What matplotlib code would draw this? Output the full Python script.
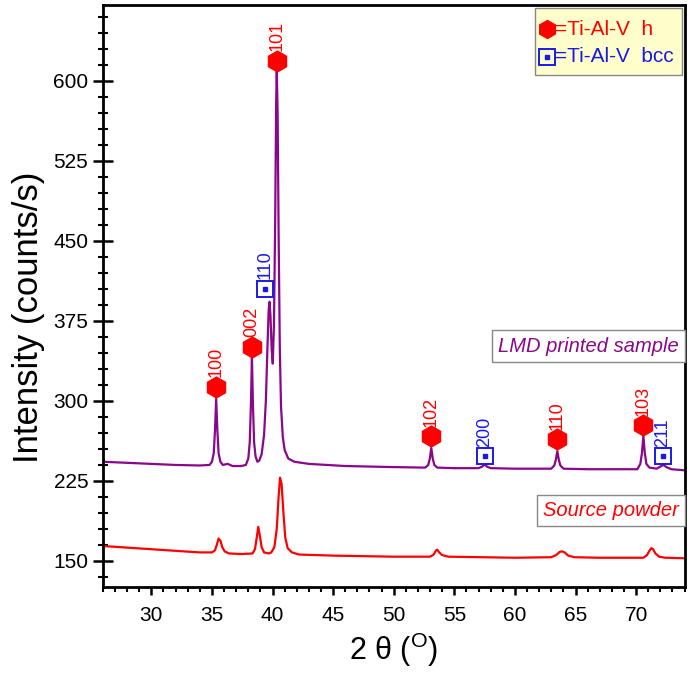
import matplotlib
matplotlib.use("Agg")
import matplotlib.pyplot as plt
from matplotlib.ticker import MultipleLocator
from matplotlib.patches import Rectangle

plt.rcParams['font.family'] = ['Liberation Sans', 'DejaVu Sans']
plt.rcParams['mathtext.fontset'] = 'custom'
plt.rcParams['mathtext.rm'] = 'Liberation Sans'

# LMD printed sample
lmd_x = [26, 28, 30, 32, 34, 34.8, 35.0, 35.15, 35.25, 35.35, 35.45, 35.55, 35.7, 35.9, 36.3,
         36.7, 37.4, 37.8, 38.0, 38.12, 38.22, 38.3, 38.38, 38.48, 38.6, 38.75, 38.9, 39.1,
         39.3, 39.45, 39.58, 39.68, 39.75, 39.83, 39.93, 40.02, 40.12, 40.22, 40.3, 40.35,
         40.42, 40.5, 40.6, 40.7, 40.85, 41.0, 41.3, 41.8, 43, 46, 50, 52.6, 52.85, 52.98,
         53.1, 53.22, 53.35, 53.6, 55, 57.0, 57.3, 57.5, 57.7, 58.0, 60, 63.0, 63.25, 63.38,
         63.5, 63.62, 63.75, 64.0, 66, 70.1, 70.35, 70.48, 70.6, 70.72, 70.85, 71.1, 71.7,
         72.0, 72.25, 72.5, 72.9, 74]
lmd_y = [243, 242, 241, 240, 239.5, 240, 243, 251, 272, 302, 272, 251, 243, 240, 241,
         239, 239, 240, 246, 261, 298, 342, 298, 261, 248, 243, 244, 250,
         268, 300, 350, 385, 393, 380, 348, 335, 372, 470, 580, 610,
         570, 460, 350, 295, 266, 254, 246, 243, 241, 239, 238, 237.5, 240, 246,
         256, 246, 240, 237.5, 237, 237, 238.5, 240.5, 238.5, 237, 236.5, 236.5, 239.5, 245,
         253, 245, 239.5, 236.5, 236, 236, 241, 251, 267, 251, 241, 237.5, 236.5,
         238.5, 240, 238, 236, 235]

# Source powder
src_x = [26, 30, 34, 35.0, 35.25, 35.4, 35.55, 35.7, 35.85, 36.05, 36.4, 37.5, 38.35, 38.55,
         38.7, 38.82, 38.95, 39.1, 39.3, 39.7, 39.9, 40.15, 40.35, 40.5, 40.62, 40.75, 40.9,
         41.05, 41.25, 41.6, 42.2, 45, 50, 53.0, 53.3, 53.5, 53.6, 53.75, 54.0, 54.5, 60,
         63.0, 63.4, 63.7, 63.9, 64.1, 64.4, 64.9, 67, 70.6, 70.9, 71.1, 71.25, 71.4, 71.6,
         71.9, 72.4, 74]
src_y = [164, 161, 158, 158, 160, 165, 171, 169, 163, 159, 157, 156.5, 157, 161,
         172, 182, 174, 163, 158, 157, 158, 163, 180, 210, 228, 222, 195,
         172, 162, 158, 156, 155, 154, 154, 156, 160, 160.5, 158, 155.5, 154, 153,
         153.5, 155.5, 158.5, 159, 158, 155, 153.5, 153, 153, 155.5, 159.5, 162, 161, 157,
         154, 153, 152.5]

# peak markers: (position, marker height, label)
hex_x = [35.35, 38.3, 40.35, 53.1, 63.5, 70.55]
hex_y = [313, 351, 619, 267, 264, 277]
hex_lab = ['100', '002', '101', '102', '110', '103']
bcc_x = [39.35, 57.5, 72.2]
bcc_y = [405, 248, 248]
bcc_lab = ['110', '200', '211']

purple = '#8a068a'
red = '#ff0000'
blue = '#1a1ae6'

fig = plt.figure(figsize=(6.95, 6.76), dpi=100)
ax = fig.add_axes([0.148, 0.1317, 0.837, 0.861])

ax.plot(lmd_x, lmd_y, color=purple, lw=1.6)
ax.plot(src_x, src_y, color=red, lw=1.6)

ax.plot(hex_x, hex_y, 'h', color=red, ms=15, mec=red, ls='none')
for x, y, t in zip(hex_x, hex_y, hex_lab):
    ax.text(x, y + 9, t, color=red, fontsize=13, rotation=90, ha='center', va='bottom')

ax.plot(bcc_x, bcc_y, 's', mfc='white', mec=blue, mew=1.4, ms=11, ls='none')
ax.plot(bcc_x, bcc_y, 's', color=blue, ms=2.5, ls='none')
for x, y, t in zip(bcc_x, bcc_y, bcc_lab):
    ax.text(x, y + 9, t, color=blue, fontsize=13, rotation=90, ha='center', va='bottom')

# legend box
ax.add_patch(Rectangle((0.743, 0.880), 0.252, 0.115, transform=ax.transAxes,
                       fc='#ffffcc', ec='#888888', lw=1, zorder=4))
ax.plot([0.763], [0.958], 'h', transform=ax.transAxes, color=red, ms=13, zorder=5)
ax.plot([0.763], [0.911], 's', transform=ax.transAxes, mfc='none', mec=blue, mew=1.4,
        ms=11, zorder=5)
ax.plot([0.763], [0.911], 's', transform=ax.transAxes, color=blue, ms=2.5, zorder=5)
ax.text(0.778, 0.958, '=Ti-Al-V  h', transform=ax.transAxes, ha='left', va='center',
        fontsize=15, color=red, zorder=5)
ax.text(0.778, 0.911, '=Ti-Al-V  bcc', transform=ax.transAxes, ha='left', va='center',
        fontsize=15, color=blue, zorder=5)

ax.text(0.99, 0.414, 'LMD printed sample', transform=ax.transAxes, ha='right', va='center',
        fontsize=14.5, style='italic', color=purple,
        bbox=dict(boxstyle='square,pad=0.3', fc='white', ec='#888888', lw=1))
ax.text(0.99, 0.131, 'Source powder', transform=ax.transAxes, ha='right', va='center',
        fontsize=14.5, style='italic', color=red,
        bbox=dict(boxstyle='square,pad=0.3', fc='white', ec='#888888', lw=1))

ax.set_xlim(26, 74)
ax.set_ylim(125.6, 671.3)
ax.xaxis.set_minor_locator(MultipleLocator(1))
ax.yaxis.set_major_locator(MultipleLocator(75))
ax.yaxis.set_minor_locator(MultipleLocator(15))
ax.set_xticks(range(30, 71, 5))
ax.tick_params(axis='x', which='major', direction='out', length=6, width=1.8, labelsize=15, pad=8)
ax.tick_params(axis='x', which='minor', direction='out', length=3.5, width=1.5)
ax.tick_params(axis='y', which='major', direction='inout', length=14, width=1.8, labelsize=15)
ax.tick_params(axis='y', which='minor', direction='inout', length=7, width=1.5)
for s in ax.spines.values():
    s.set_linewidth(2)

ax.set_xlabel(r'2 θ ($^{\mathrm{O}}$)', fontsize=22, labelpad=4)
ax.set_ylabel('Intensity (counts/s)', fontsize=25)
ax.yaxis.set_label_coords(-0.10, 0.464)

fig.savefig('out.png', dpi=100)
